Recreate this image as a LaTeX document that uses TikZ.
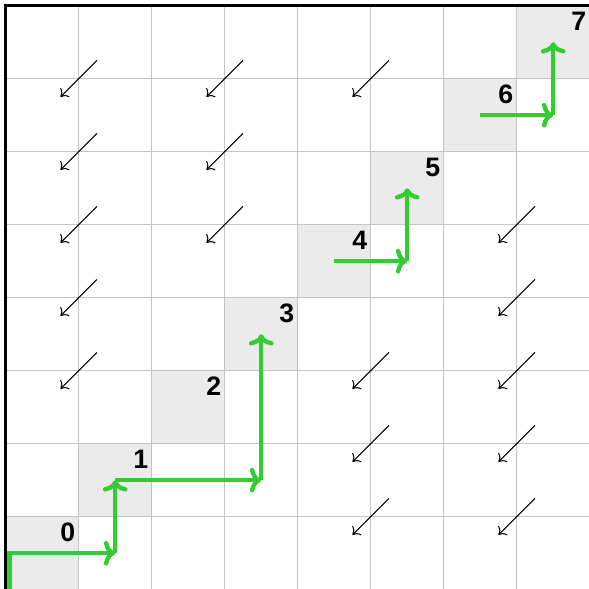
\documentclass[tikz,border=0pt]{standalone}
\usepackage{fontspec}
\setmainfont{Liberation Sans}
\usetikzlibrary{arrows.meta}
\definecolor{cellgray}{HTML}{EBEBEB}
\definecolor{gridgray}{HTML}{C4C4C4}
\definecolor{pathgreen}{HTML}{33CC33}
\tikzset{
  diagcell/.style={fill=cellgray, draw=none},
  gridline/.style={draw=gridgray, line width=0.6pt},
  borderline/.style={draw=black, line width=1.3pt},
  smallarrow/.style={draw=black, line width=0.4pt, -{To[length=2.6pt,width=5pt]}},
  greenpath/.style={draw=pathgreen, line width=1.7pt, -{To[length=4.4pt,width=9.6pt]}},
  numlabel/.style={font=\bfseries\fontsize{10.4}{11}\selectfont, inner sep=0pt}
}
\begin{document}
\begin{tikzpicture}[x=1cm,y=1cm]
\useasboundingbox (-0.078,0.01) rectangle (7.99,8.078);
% diagonal cells
\foreach \i in {0,...,7} {
  \fill[cellgray] (\i,\i) rectangle ++(1,1);
}
% grid
\foreach \i in {1,...,8} {
  \draw[gridline] (\i,0) -- (\i,8);
  \draw[gridline] (0,\i-1) -- (8,\i-1);
}
% border
\draw[borderline] (0,-0.1) -- (0,8) -- (8.1,8);
% small arrows at grid corners
\foreach \c/\r [count=\k] in {1/7,1/6,1/5,1/4,1/3,3/7,3/6,3/5,5/7,5/3,5/2,5/1,7/5,7/4,7/3,7/2,7/1} {
  \coordinate (sa\k) at (\c+0.25,\r+0.25);
  \coordinate (se\k) at (\c-0.25,\r-0.25);
  \draw[smallarrow] (sa\k) -- (se\k);
}
% green path coordinates
\coordinate (g0) at (0.05,0);
\coordinate (g1) at (0.05,0.5);
\coordinate (g2) at (1.5,0.5);
\coordinate (g3) at (1.5,1.5);
\coordinate (g4) at (3.5,1.5);
\coordinate (g5) at (3.5,3.5);
\coordinate (h0) at (4.5,4.5);
\coordinate (h1) at (5.5,4.5);
\coordinate (h2) at (5.5,5.5);
\coordinate (k0) at (6.5,6.5);
\coordinate (k1) at (7.5,6.5);
\coordinate (k2) at (7.5,7.5);
\draw[greenpath] (g0) -- (g1) -- (g2);
\draw[greenpath] (g2) -- (g3);
\draw[greenpath] (g3) -- (g4);
\draw[greenpath] (g4) -- (g5);
\draw[greenpath] (h0) -- (h1);
\draw[greenpath] (h1) -- (h2);
\draw[greenpath] (k0) -- (k1);
\draw[greenpath] (k1) -- (k2);
% labels
\foreach \i in {0,...,7} {
  \node[numlabel] (n\i) at (\i+0.85,\i+0.79) {\i};
}
\end{tikzpicture}
\end{document}
